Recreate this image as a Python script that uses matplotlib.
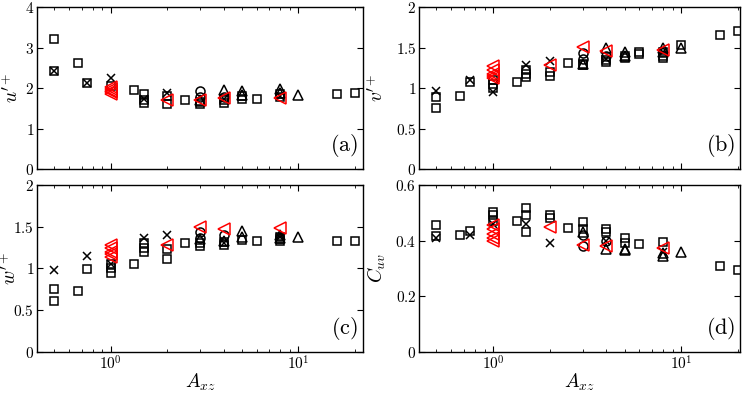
import matplotlib
matplotlib.use('Agg')
import matplotlib.pyplot as plt
from matplotlib.ticker import LogLocator, NullFormatter

plt.rcParams['mathtext.fontset'] = 'cm'
plt.rcParams['font.family'] = 'serif'
plt.rcParams['font.serif'] = ['DejaVu Serif']

# ---- data ----
# open squares
sq_x_a = [0.5, 0.5, 0.667, 0.75, 1, 1.333, 1.5, 1.5, 1.5, 2, 2, 2.5, 3, 3, 4, 4, 5, 5, 6, 8, 8, 16, 20]
sq_y_a = [3.21, 2.42, 2.63, 2.13, 2.05, 1.96, 1.85, 1.70, 1.62, 1.80, 1.60, 1.70, 1.65, 1.60, 1.70, 1.63, 1.80, 1.73, 1.74, 1.85, 1.78, 1.85, 1.88]
sq_x_b = [0.5, 0.5, 0.667, 0.75, 1, 1, 1, 1.333, 1.5, 1.5, 1.5, 2, 2, 2.5, 3, 3, 4, 4, 5, 5, 6, 6, 8, 8, 8, 10, 16, 20]
sq_y_b = [0.89, 0.76, 0.90, 1.07, 1.10, 1.05, 1.00, 1.08, 1.22, 1.17, 1.14, 1.20, 1.15, 1.31, 1.30, 1.28, 1.35, 1.32, 1.40, 1.37, 1.44, 1.42, 1.45, 1.40, 1.37, 1.53, 1.65, 1.70]
sq_x_c = [0.5, 0.5, 0.667, 0.75, 1, 1, 1, 1.333, 1.5, 1.5, 1.5, 2, 2, 2.5, 3, 3, 4, 4, 5, 6, 8, 8, 8, 16, 20]
sq_y_c = [0.75, 0.61, 0.73, 0.99, 1.05, 1.00, 0.95, 1.05, 1.30, 1.25, 1.20, 1.23, 1.11, 1.30, 1.30, 1.27, 1.32, 1.28, 1.34, 1.33, 1.38, 1.35, 1.33, 1.33, 1.33]
sq_x_d = [0.5, 0.5, 0.667, 0.75, 1, 1, 1, 1.333, 1.5, 1.5, 1.5, 2, 2, 2.5, 3, 3, 4, 4, 5, 5, 6, 8, 16, 20]
sq_y_d = [0.457, 0.415, 0.42, 0.435, 0.503, 0.49, 0.47, 0.472, 0.516, 0.49, 0.43, 0.49, 0.48, 0.444, 0.465, 0.44, 0.44, 0.43, 0.41, 0.39, 0.387, 0.395, 0.307, 0.295]

# crosses
cr_x = [0.5, 0.75, 1, 1.5, 2, 4, 8]
cr_y_a = [2.42, 2.13, 2.25, 1.72, 1.88, 1.72, 1.80]
cr_y_b = [0.97, 1.10, 0.95, 1.28, 1.33, 1.36, 1.45]
cr_y_c = [0.98, 1.15, 1.05, 1.36, 1.40, 1.30, 1.37]
cr_y_d = [0.41, 0.42, 0.46, 0.46, 0.393, 0.40, 0.36]

# circles
ci_x = [3, 3, 4]
ci_y_a = [1.93, 1.78, 1.79]
ci_y_b = [1.43, 1.36, 1.40]
ci_y_c = [1.43, 1.36, 1.40]
ci_y_d = [0.42, 0.38, 0.40]

# up triangles
tr_x = [3, 4, 5, 5, 8, 8, 10]
tr_y_a = [1.70, 1.95, 1.93, 1.83, 1.98, 1.88, 1.83]
tr_y_b = [1.30, 1.49, 1.45, 1.40, 1.50, 1.44, 1.50]
tr_y_c = [1.35, 1.33, 1.45, 1.38, 1.40, 1.36, 1.37]
tr_y_d = [0.43, 0.37, 0.37, 0.365, 0.355, 0.345, 0.36]

# red left triangles
rt_x = [1, 1, 1, 1, 1, 2, 3, 4, 8]
rt_y_a = [2.02, 1.97, 1.93, 1.90, 1.86, 1.70, 1.70, 1.75, 1.76]
rt_y_b = [1.27, 1.22, 1.18, 1.15, 1.12, 1.28, 1.51, 1.46, 1.47]
rt_y_c = [1.28, 1.24, 1.20, 1.17, 1.14, 1.28, 1.50, 1.47, 1.48]
rt_y_d = [0.455, 0.44, 0.425, 0.41, 0.40, 0.45, 0.385, 0.38, 0.375]

panels = [
    ((sq_x_a, sq_y_a), cr_y_a, ci_y_a, tr_y_a, rt_y_a, r"$u'^{+}$", (0, 4), [0, 1, 2, 3, 4], ['0', '1', '2', '3', '4'], 'a'),
    ((sq_x_b, sq_y_b), cr_y_b, ci_y_b, tr_y_b, rt_y_b, r"$v'^{+}$", (0, 2), [0, 0.5, 1, 1.5, 2], ['0', '0.5', '1', '1.5', '2'], 'b'),
    ((sq_x_c, sq_y_c), cr_y_c, ci_y_c, tr_y_c, rt_y_c, r"$w'^{+}$", (0, 2), [0, 0.5, 1, 1.5, 2], ['0', '0.5', '1', '1.5', '2'], 'c'),
    ((sq_x_d, sq_y_d), cr_y_d, ci_y_d, tr_y_d, rt_y_d, r"$C_{uv}$", (0, 0.6), [0, 0.2, 0.4, 0.6], ['0', '0.2', '0.4', '0.6'], 'd'),
]

rects = [
    [0.0495, 0.572, 0.4365, 0.410],
    [0.561, 0.572, 0.430, 0.410],
    [0.0495, 0.109, 0.4365, 0.423],
    [0.561, 0.109, 0.430, 0.423],
]
xlims = [(0.404, 22.1), (0.404, 20.6), (0.404, 22.1), (0.404, 20.6)]
label_x = [-0.046, -0.10, -0.052, -0.097]

fig = plt.figure(figsize=(7.47, 3.95), dpi=100)

for i, (sq, cr, ci, tr, rt, ylab, ylim, yt, ytl, tag) in enumerate(panels):
    ax = fig.add_axes(rects[i])
    ms = 5.5
    mew = 1.1
    ax.plot(sq[0], sq[1], 's', mfc='none', mec='k', ms=ms, mew=mew)
    ax.plot(cr_x, cr, 'x', color='k', ms=ms, mew=mew)
    ax.plot(ci_x, ci, 'o', mfc='none', mec='k', ms=ms + 1, mew=mew)
    ax.plot(tr_x, tr, '^', mfc='none', mec='k', ms=ms + 1, mew=mew)
    ax.plot(rt_x, rt, '<', mfc='none', mec='r', ms=ms + 2.5, mew=mew)
    ax.set_xscale('log')
    ax.set_xlim(*xlims[i])
    ax.set_ylim(*ylim)
    ax.set_yticks(yt)
    ax.set_yticklabels(['$' + t + '$' for t in ytl])
    ax.xaxis.set_minor_locator(LogLocator(base=10, subs=range(2, 10)))
    ax.xaxis.set_minor_formatter(NullFormatter())
    ax.tick_params(which='both', direction='in', top=True, right=True, labelsize=11, pad=2)
    ax.tick_params(which='major', length=4)
    ax.tick_params(which='minor', length=2)
    for s in ax.spines.values():
        s.set_linewidth(1.0)
    ax.set_ylabel(ylab, fontsize=14)
    ax.yaxis.set_label_coords(label_x[i], 0.5)
    if i < 2:
        ax.set_xticklabels([])
    else:
        ax.set_xticks([1, 10])
        ax.set_xticklabels([r'$10^0$', r'$10^1$'])
        ax.set_xlabel(r'$A_{xz}$', fontsize=14, labelpad=-1)
    ax.text(0.985, 0.06, r'$(\mathrm{' + tag + '})$', transform=ax.transAxes,
            ha='right', va='bottom', fontsize=16)

fig.savefig('out.png', dpi=100)
